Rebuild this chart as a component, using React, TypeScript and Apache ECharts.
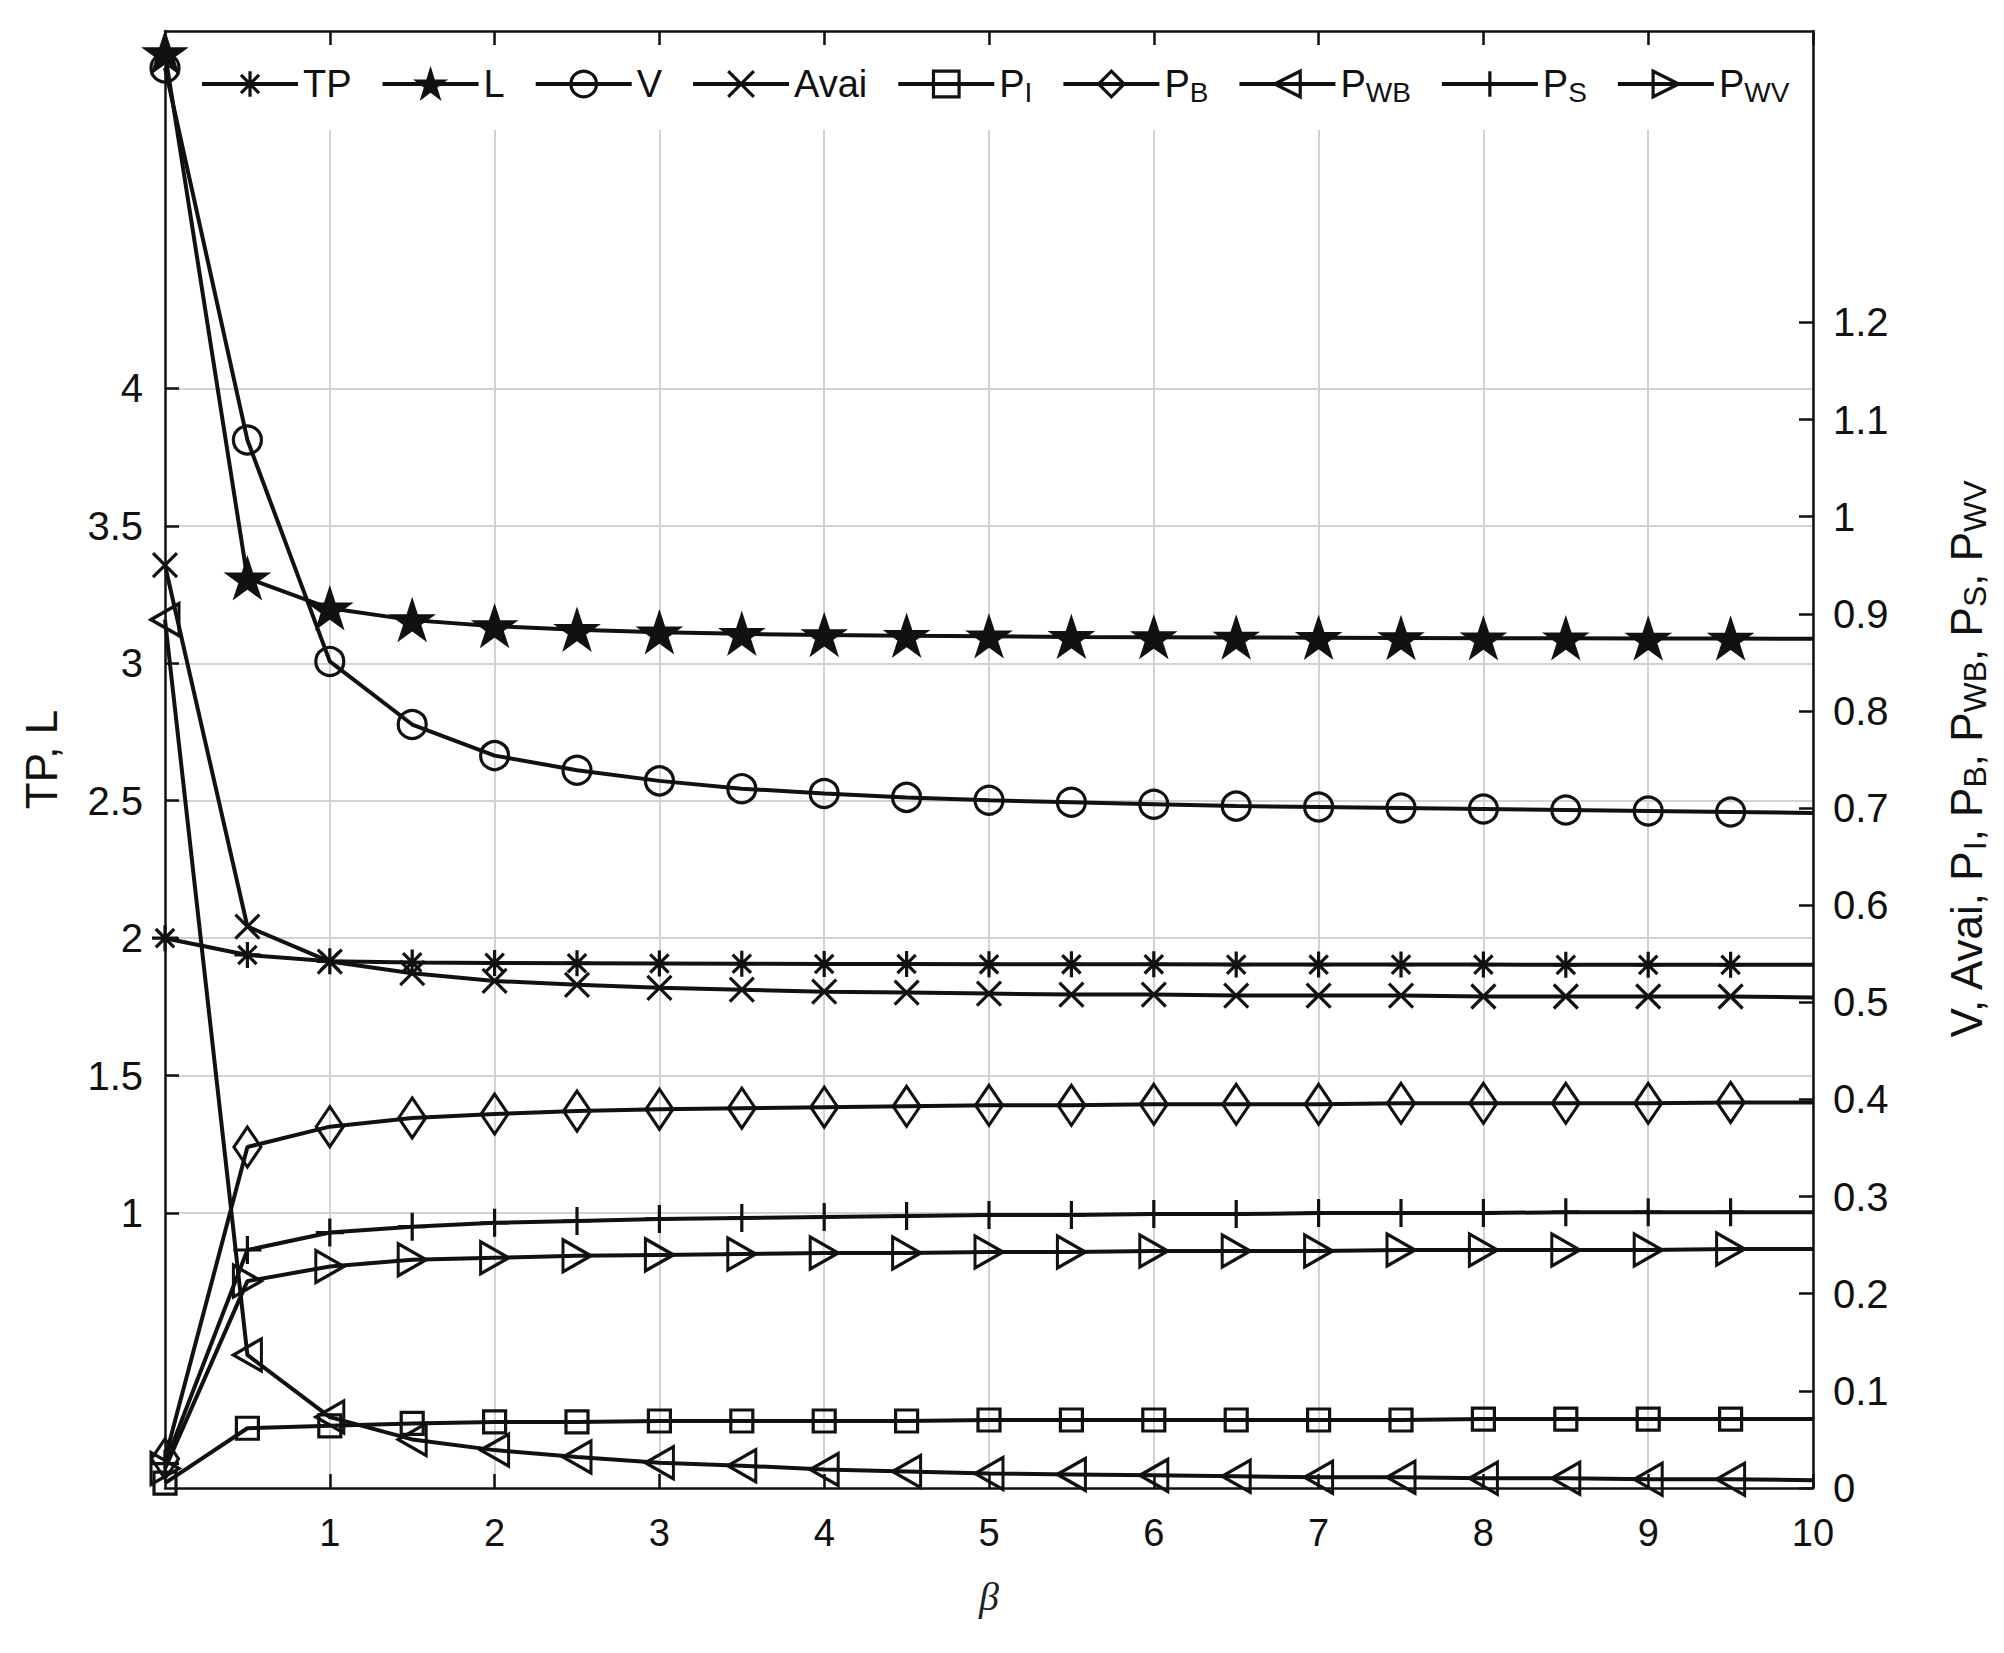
import React, { useEffect, useRef } from 'react';
import * as echarts from 'echarts';

// ---------- data ----------
const betaValues = [0, 0.5, 1, 1.5, 2, 2.5, 3, 3.5, 4, 4.5, 5, 5.5, 6, 6.5, 7, 7.5, 8, 8.5, 9, 9.5, 10];
const tpValues = [2.0, 1.939, 1.916, 1.912, 1.91, 1.909, 1.908, 1.907, 1.906, 1.906, 1.905, 1.905, 1.905, 1.904, 1.904, 1.904, 1.904, 1.903, 1.903, 1.903, 1.903];
const lValues = [5.22, 3.309, 3.2, 3.157, 3.135, 3.122, 3.113, 3.107, 3.103, 3.1, 3.098, 3.096, 3.095, 3.094, 3.093, 3.092, 3.091, 3.091, 3.09, 3.09, 3.089];
const vValues = [1.462, 1.079, 0.851, 0.786, 0.754, 0.739, 0.728, 0.72, 0.715, 0.711, 0.708, 0.706, 0.704, 0.702, 0.701, 0.7, 0.699, 0.698, 0.697, 0.696, 0.695];
const availValues = [0.95, 0.578, 0.542, 0.53, 0.522, 0.518, 0.515, 0.513, 0.511, 0.51, 0.509, 0.508, 0.508, 0.507, 0.507, 0.507, 0.506, 0.506, 0.506, 0.506, 0.505];
const pIValues = [0.005, 0.0615, 0.064, 0.0665, 0.068, 0.068, 0.069, 0.069, 0.069, 0.069, 0.07, 0.07, 0.07, 0.07, 0.07, 0.07, 0.071, 0.071, 0.071, 0.071, 0.071];
const pBValues = [0.03, 0.351, 0.372, 0.381, 0.385, 0.388, 0.39, 0.391, 0.392, 0.393, 0.394, 0.394, 0.395, 0.395, 0.395, 0.396, 0.396, 0.396, 0.396, 0.397, 0.397];
const pWBValues = [0.894, 0.137, 0.073, 0.05, 0.039, 0.032, 0.026, 0.023, 0.019, 0.017, 0.015, 0.014, 0.013, 0.012, 0.011, 0.011, 0.01, 0.01, 0.009, 0.009, 0.008];
const pSValues = [0.025, 0.245, 0.263, 0.269, 0.273, 0.275, 0.277, 0.278, 0.279, 0.28, 0.281, 0.281, 0.282, 0.282, 0.283, 0.283, 0.283, 0.284, 0.284, 0.284, 0.284];
const pWVValues = [0.02, 0.213, 0.228, 0.235, 0.237, 0.239, 0.24, 0.241, 0.242, 0.242, 0.243, 0.243, 0.244, 0.244, 0.244, 0.245, 0.245, 0.245, 0.245, 0.246, 0.246];

const xTicks = [1, 2, 3, 4, 5, 6, 7, 8, 9, 10];
const leftTicks = [1, 1.5, 2, 2.5, 3, 3.5, 4];
const rightTicks = [0, 0.1, 0.2, 0.3, 0.4, 0.5, 0.6, 0.7, 0.8, 0.9, 1, 1.1, 1.2];

// ---------- styles ----------
const FONT = '"Liberation Sans", Arial, Helvetica, sans-serif';
const INK = '#111';

const SYM_ASTERISK = 'path://M0,-10L0,10M-10,0L10,0M-7.07,-7.07L7.07,7.07M-7.07,7.07L7.07,-7.07';
const SYM_X = 'path://M-10,-10L10,10M-10,10L10,-10';
const SYM_PLUS = 'path://M0,-10L0,10M-10,0L10,0';
const SYM_STAR = 'path://M0,-1L0.2245,-0.309L0.9511,-0.309L0.3633,0.118L0.5878,0.809L0,0.382L-0.5878,0.809L-0.3633,0.118L-0.9511,-0.309L-0.2245,-0.309Z';
const SYM_LEFT = 'path://M-10,0L10,-11L10,11Z';
const SYM_RIGHT = 'path://M10,0L-10,-11L-10,11Z';

function mkSeries(name: string, values: number[], yAxisIndex: number, symbol: string, symbolSize: any, filled = false) {
  const last = betaValues.length - 1;
  return {
    name,
    type: 'line',
    xAxisIndex: 0,
    yAxisIndex,
    symbol,
    symbolSize,
    showAllSymbol: true,
    symbolKeepAspect: false,
    data: betaValues.map((b, i) => (i === last ? { value: [b, values[i]], symbol: 'none' } : [b, values[i]])),
    lineStyle: { color: INK, width: 4 },
    itemStyle: { color: filled ? INK : 'rgba(0,0,0,0)', borderColor: INK, borderWidth: 3.2 },
    emphasis: { disabled: true },
    z: 3,
  };
}

const subName = (name: string) => {
  const i = name.indexOf('_');
  if (i < 0) return `{n|${name}}`;
  return `{n|${name.slice(0, i)}}{s|${name.slice(i + 1)}}`;
};

export default function App() {
  const ref = useRef<HTMLDivElement>(null);
  useEffect(() => {
    const chart = echarts.init(ref.current!, null, { renderer: 'svg' });
    const gridLine = { show: true, lineStyle: { color: '#d2d2d2', width: 2 } };
    const axisLine = { show: true, onZero: false, lineStyle: { color: INK, width: 2.5 } };
    const option: any = {
      animation: false,
      backgroundColor: '#fff',
      grid: { left: 165, right: 191, top: 31, bottom: 165, containLabel: false },
      legend: {
        left: 188,
        top: 45,
        padding: [20, 14, 24, 12],
        backgroundColor: '#fff',
        itemWidth: 96,
        itemHeight: 32,
        itemGap: 29,
        selectedMode: false,
        lineStyle: { width: 4, color: INK },
        itemStyle: { borderWidth: 3.2, borderColor: INK },
        data: ['TP', 'L', 'V', 'Avai', 'P_I', 'P_B', 'P_WB', 'P_S', 'P_WV'],
        formatter: (n: string) => subName(n),
        textStyle: {
          color: INK,
          fontFamily: FONT,
          fontSize: 38,
          rich: {
            n: { fontFamily: FONT, fontSize: 38, lineHeight: 44, color: INK },
            s: { fontFamily: FONT, fontSize: 28, lineHeight: 18, verticalAlign: 'bottom', color: INK },
          },
        },
        z: 10,
      },
      xAxis: [
        {
          type: 'value',
          min: 0,
          max: 10,
          position: 'bottom',
          name: 'β',
          nameLocation: 'middle',
          nameGap: 88,
          nameTextStyle: { fontFamily: '"Liberation Serif", serif', fontStyle: 'italic', fontSize: 40, color: '#222' },
          axisLine,
          axisTick: { show: true, inside: true, length: 14, customValues: xTicks, lineStyle: { color: INK, width: 2.5 } },
          axisLabel: { customValues: xTicks, margin: 26, fontFamily: FONT, fontSize: 38, color: INK },
          splitLine: gridLine,
        },
        {
          type: 'value',
          min: 0,
          max: 10,
          position: 'top',
          axisLine,
          axisTick: { show: true, inside: true, length: 14, customValues: xTicks, lineStyle: { color: INK, width: 2.5 } },
          axisLabel: { show: false },
          splitLine: { show: false },
        },
      ],
      yAxis: [
        {
          type: 'value',
          min: 0,
          max: 5.3,
          position: 'left',
          name: 'TP, L',
          nameLocation: 'middle',
          nameGap: 102,
          nameRotate: 90,
          nameTextStyle: { fontFamily: FONT, fontSize: 44, color: INK },
          axisLine,
          axisTick: { show: true, inside: true, length: 14, customValues: leftTicks, lineStyle: { color: INK, width: 2.5 } },
          axisLabel: { customValues: leftTicks, margin: 22, fontFamily: FONT, fontSize: 40, color: INK },
          splitLine: gridLine,
        },
        {
          type: 'value',
          min: 0,
          max: 1.5,
          position: 'right',
          name: '{n|V, Avai, P}{s|I}{n|, P}{s|B}{n|, P}{s|WB}{n|, P}{s|S}{n|, P}{s|WV}',
          nameLocation: 'middle',
          nameGap: 128,
          nameRotate: 90,
          nameTextStyle: {
            fontFamily: FONT,
            fontSize: 44,
            color: INK,
            rich: {
              n: { fontFamily: FONT, fontSize: 44, lineHeight: 50, color: INK },
              s: { fontFamily: FONT, fontSize: 32, lineHeight: 22, verticalAlign: 'bottom', color: INK },
            },
          },
          axisLine,
          axisTick: { show: true, inside: true, length: 14, customValues: rightTicks, lineStyle: { color: INK, width: 2.5 } },
          axisLabel: {
            customValues: rightTicks,
            margin: 20,
            fontFamily: FONT,
            fontSize: 40,
            color: INK,
            formatter: (v: number) => String(+Number(v).toFixed(1)),
          },
          splitLine: { show: false },
        },
      ],
      series: [
        mkSeries('TP', tpValues, 0, SYM_ASTERISK, 26),
        mkSeries('L', lValues, 0, SYM_STAR, [38, 36], true),
        mkSeries('V', vValues, 1, 'circle', 28),
        mkSeries('Avai', availValues, 1, SYM_X, 24),
        mkSeries('P_I', pIValues, 1, 'rect', 22),
        mkSeries('P_B', pBValues, 1, 'diamond', [27, 40]),
        mkSeries('P_WB', pWBValues, 1, SYM_LEFT, [28, 32]),
        mkSeries('P_S', pSValues, 1, SYM_PLUS, 28),
        mkSeries('P_WV', pWVValues, 1, SYM_RIGHT, [28, 32]),
      ],
    };
    chart.setOption(option);
    return () => chart.dispose();
  }, []);
  return (
    <div
      ref={ref}
      style={{ position: 'absolute', left: 0, top: 0, width: 2004, height: 1653, background: '#fff' }}
    />
  );
}
